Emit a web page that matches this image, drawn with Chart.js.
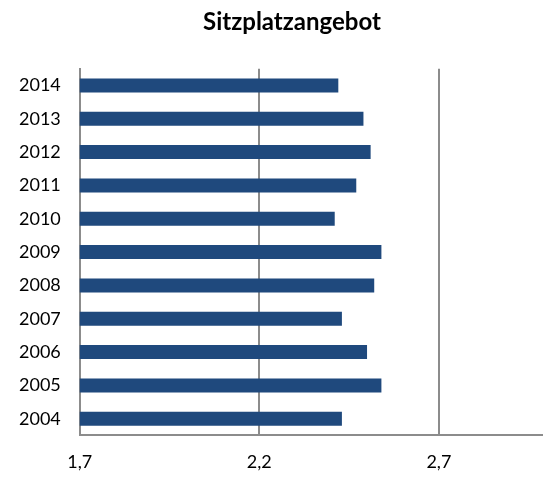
<!DOCTYPE html>
<html><head><meta charset="utf-8">
<script src="https://cdn.jsdelivr.net/npm/chart.js@4"></script>
<style>html,body{margin:0;padding:0;background:#fff;}#wrap{width:543px;height:477px;}</style>
</head><body><div id="wrap"><canvas id="c" width="543" height="477"></canvas></div>
<script>
const years = ["2014","2013","2012","2011","2010","2009","2008","2007","2006","2005","2004"];
const seats = [2.42,2.49,2.51,2.47,2.41,2.54,2.52,2.43,2.50,2.54,2.43];
const xTicks = [1.7,2.2,2.7];
const xMin = 1.7, xMax = 2.99;
const titleText = "Sitzplatzangebot";

const moveTitle = {
  id: 'moveTitle',
  afterLayout(chart) {
    const t = chart.titleBlock;
    if (t) { t.left = 0; t.right = 584; }
  }
};

new Chart(document.getElementById('c'), {
  type: 'bar',
  data: { labels: years, datasets: [{ data: seats, backgroundColor: '#1f497d', barPercentage: 0.42, categoryPercentage: 1.0 }] },
  plugins: [moveTitle],
  options: {
    indexAxis: 'y', responsive: false, animation: false,
    layout: { padding: { left: 0, right: 0, top: 0, bottom: -12 } },
    plugins: {
      legend: { display: false }, tooltip: { enabled: false },
      title: { display: true, text: titleText, color: '#000', font: { family: 'Lato', size: 24, weight: 'bold' }, padding: { top: 8, bottom: 32 } }
    },
    scales: {
      x: {
        min: xMin, max: xMax,
        afterBuildTicks: s => { s.ticks = xTicks.map(v => ({ value: v })); },
        ticks: { color: '#000', font: { family: 'Lato', size: 18 }, padding: 16, callback: v => String(v).replace('.', ',') },
        grid: { color: '#8c8c8c', lineWidth: 2, drawTicks: false },
        border: { color: '#8c8c8c', width: 2 }
      },
      y: {
        ticks: { color: '#000', font: { family: 'Lato', size: 18 }, padding: 19 },
        grid: { display: false, drawTicks: false },
        border: { color: '#8c8c8c', width: 2 }
      }
    }
  }
});
</script></body></html>
